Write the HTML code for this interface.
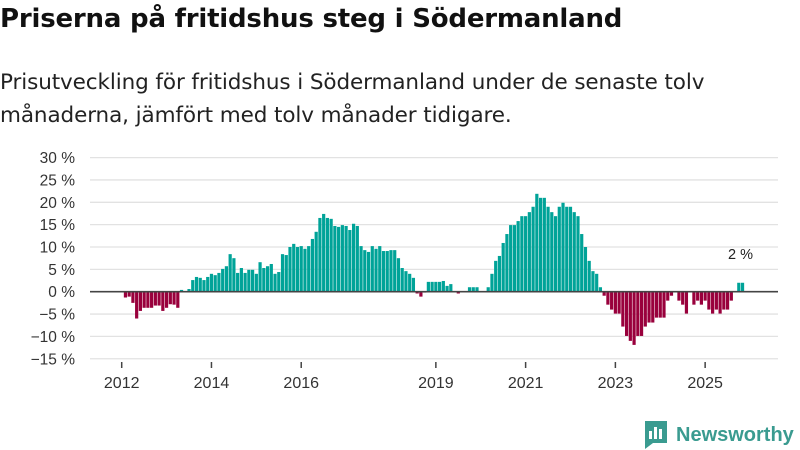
<!DOCTYPE html>
<html><head><meta charset="utf-8">
<style>
body{margin:0;background:#fff;width:800px;height:450px;overflow:hidden;font-family:"Liberation Sans",sans-serif;}
#t{position:absolute;left:0;top:4px;font-family:"DejaVu Sans",sans-serif;font-size:26px;font-weight:bold;color:#111;margin:0;letter-spacing:-0.2px}
#s{position:absolute;left:0;top:66px;font-family:"DejaVu Sans",sans-serif;font-size:21.5px;line-height:33px;color:#222;margin:0;width:800px;white-space:nowrap;letter-spacing:-0.1px}
svg{position:absolute;left:0;top:0}
</style></head><body>
<h1 id="t">Priserna på fritidshus steg i Södermanland</h1>
<p id="s">Prisutveckling för fritidshus i Södermanland under de senaste tolv<br>månaderna, jämfört med tolv månader tidigare.</p>
<svg id="c" width="800" height="450"></svg>
<script>
const startMonthIndex = 1; // Feb 2012
const values = [-1.3,-1.1,-2.5,-6.0,-4.3,-3.6,-3.6,-3.6,-3.1,-3.1,-4.3,-3.6,-2.8,-2.9,-3.6,0.4,0,0.6,
2.6,3.3,3.1,2.6,3.3,4.0,3.7,4.2,5.1,5.7,8.4,7.5,4.2,5.3,4.2,4.9,4.9,4.0,6.6,5.3,5.7,6.2,4.0,4.4,8.4,8.2,10.0,10.7,10.0,10.2,9.6,10.2,11.8,13.4,16.5,17.4,
16.5,16.3,14.7,14.5,14.9,14.7,13.8,15.2,14.7,10.2,9.3,8.9,10.2,9.6,10.2,9.1,9.1,9.3,9.3,7.5,5.3,4.6,4.0,3.1,-0.4,-1.1,-0.2,2.2,2.2,2.2,2.2,2.4,1.3,1.7,0,-0.4,0,0,1.0,1.0,1.0,0,0,1.0,4.0,6.9,8.0,10.9,12.9,14.9,14.9,15.8,16.9,16.9,17.8,19.0,21.9,21.0,21.0,
19.0,17.8,16.9,19.0,19.9,19.0,19.0,17.8,16.9,12.9,10.0,6.9,4.6,4.0,1.0,-0.9,-2.9,-4.0,-4.9,-4.9,-7.8,-9.9,-11.0,-11.9,-9.9,-9.9,-7.8,-6.9,-6.9,-5.8,-5.8,-5.8,-2.0,-0.9,0,-2.0,-2.9,-4.9,0,-2.9,-2.0,-2.9,-2.0,-4.0,-4.9,-4.0,-4.9,-4.0,-4.0,-2.0,0,2.0,2.0];
const yTicks = [30,25,20,15,10,5,0,-5,-10,-15];
const yTickLabels = ["30 %","25 %","20 %","15 %","10 %","5 %","0 %","−5 %","−10 %","−15 %"];
const xTickYears = [2012,2014,2016,2019,2021,2023,2025];
const lastLabel = "2 %";

const svg = document.getElementById('c');
const NS = "http://www.w3.org/2000/svg";
const y = v => 291.7 - v*4.47;
const x = m => 121.7 + m*3.74; // m = months since Jan 2012
function el(tag, attrs, parent){const e=document.createElementNS(NS,tag);for(const k in attrs)e.setAttribute(k,attrs[k]);(parent||svg).appendChild(e);return e;}

yTicks.forEach((t,i)=>{
  const g = el('line',{x1:90,x2:778,y1:y(t),y2:y(t),stroke:'#e2e2e2','stroke-width':1.3});
  
  
  const tx = el('text',{x:75,y:y(t)+5.5,'text-anchor':'end','font-size':15.5,fill:'#333'});
  tx.textContent = yTickLabels[i];
  
  
});
xTickYears.forEach(yr=>{
  const xx = x((yr-2012)*12);
  const tk = el('line',{x1:xx,x2:xx,y1:362,y2:368,stroke:'#444','stroke-width':1.5});
  
  
  const tx = el('text',{x:xx,y:388,'text-anchor':'middle','font-size':16,fill:'#333'});
  tx.textContent = yr;
  
  
});
values.forEach((v,i)=>{
  if(v===0) return;
  const cx = x(startMonthIndex+i);
  const r = el('rect',{x:cx-1.6,width:3.2,y:Math.min(y(v),y(0)),height:Math.abs(y(v)-y(0)),fill:v>0?'#00a398':'#99003c'});
  
  
});
const z = el('line',{x1:90,x2:778,y1:y(0),y2:y(0),stroke:'#444','stroke-width':1.6});


const li = values.length-1;
const lab = el('text',{x:x(startMonthIndex+li)-2,y:y(values[li])-24,'text-anchor':'middle','font-size':14.5,fill:'#222'});
lab.textContent = lastLabel;



// logo
const lg = el('g',{});


el('path',{d:'M645 421 h22 v22 h-14 l-8 6 z',fill:'#3a9b90'},lg);
el('rect',{x:649,y:431,width:3,height:8,fill:'#fff'},lg);
el('rect',{x:654,y:427,width:3,height:12,fill:'#fff'},lg);
el('rect',{x:659,y:429,width:3,height:10,fill:'#fff'},lg);
const lt = el('text',{x:676,y:441,'font-size':20,'font-weight':'bold',fill:'#3a9b90'},lg);
lt.textContent='Newsworthy';
</script>
</body></html>
